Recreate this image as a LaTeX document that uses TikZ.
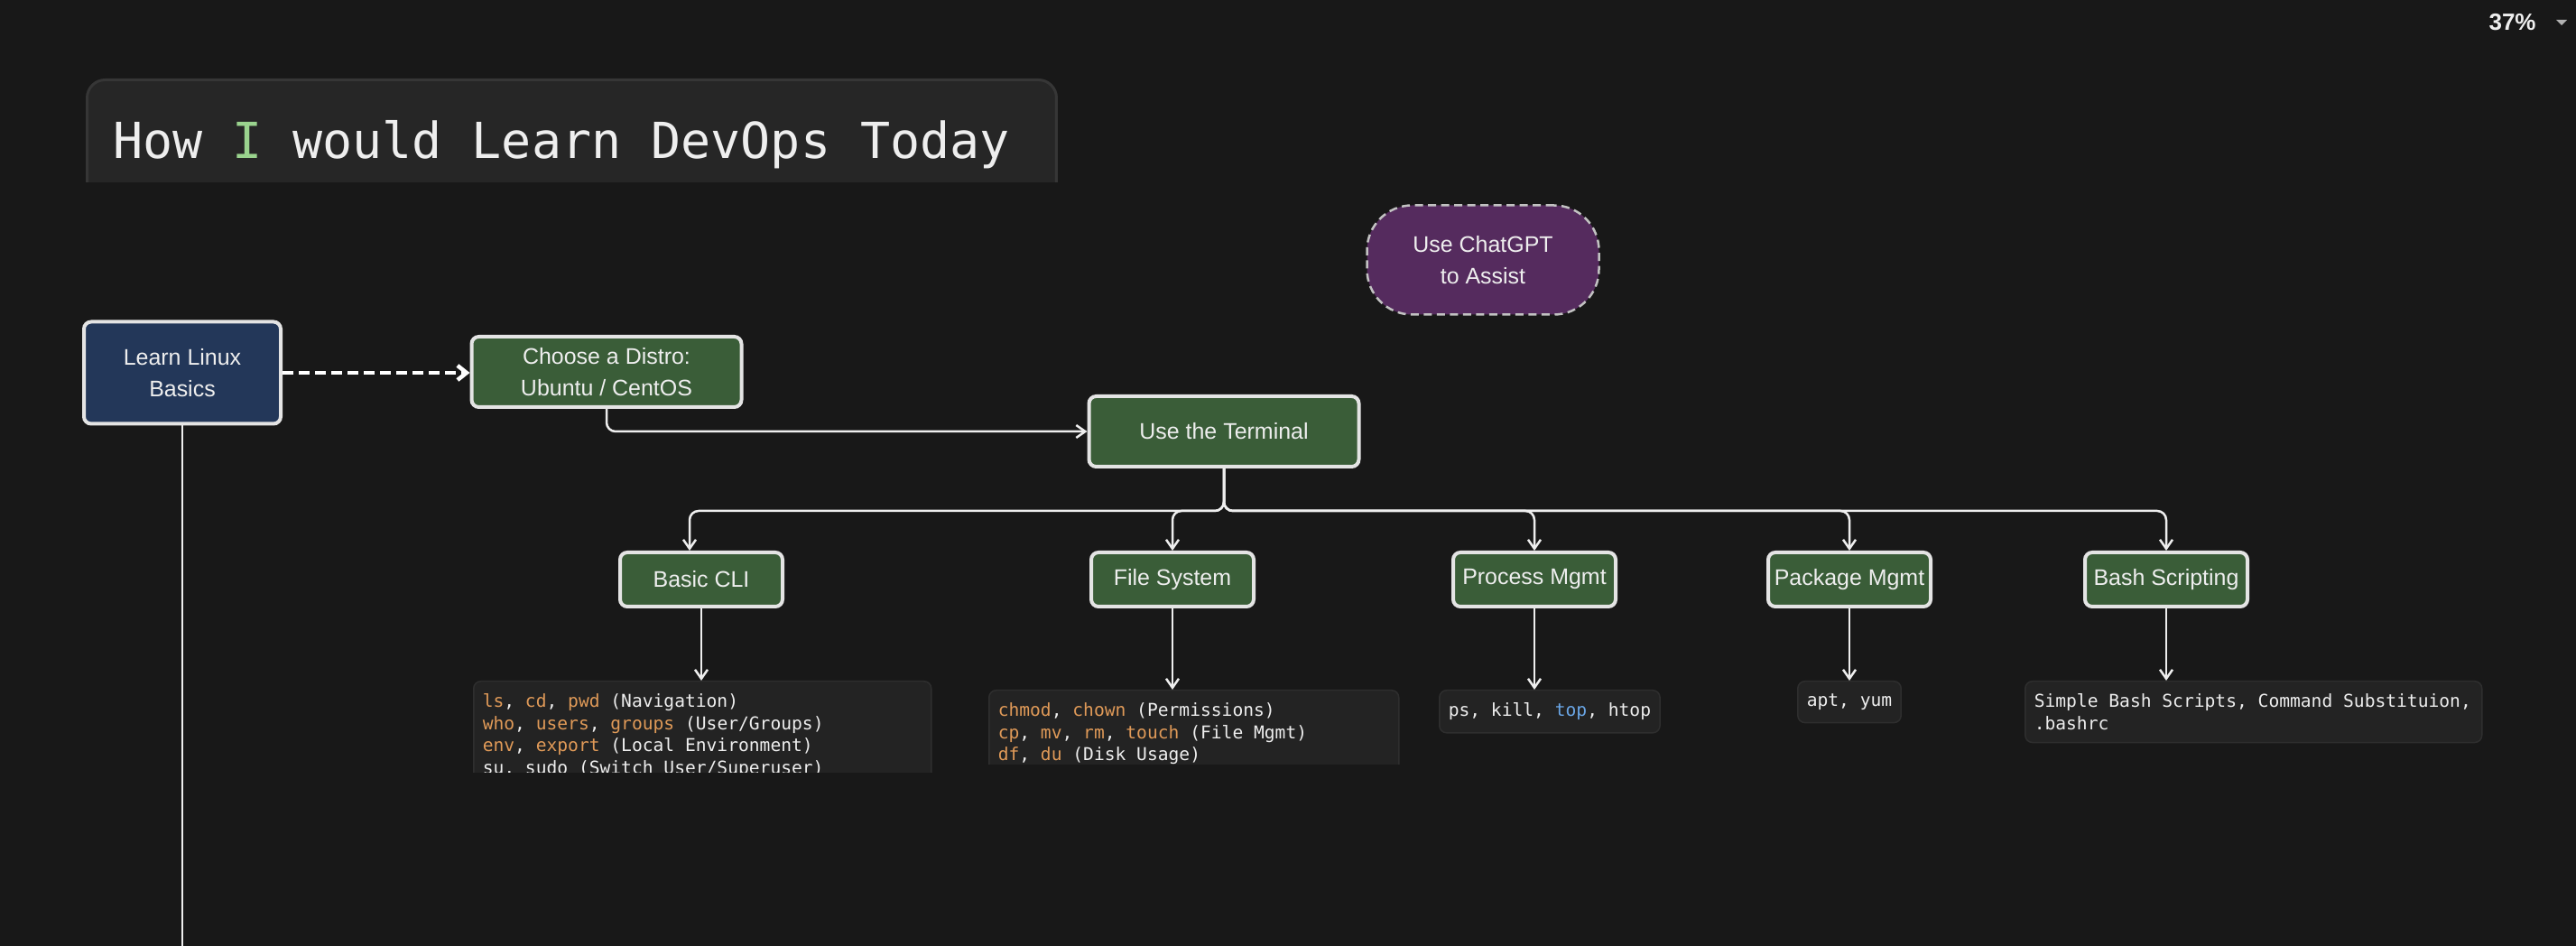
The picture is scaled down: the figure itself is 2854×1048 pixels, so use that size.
\documentclass[tikz,border=0pt]{standalone}
\usepackage{fontspec}
\setmainfont{Liberation Sans}
\setmonofont{DejaVu Sans Mono}
\usetikzlibrary{arrows.meta}

\definecolor{bgcol}{HTML}{181818}
\definecolor{titlebg}{HTML}{262626}
\definecolor{titleline}{HTML}{363636}
\definecolor{codebg}{HTML}{232323}
\definecolor{codeline}{HTML}{2E2E2E}
\definecolor{navyfill}{HTML}{233759}
\definecolor{greenfill}{HTML}{3A5D38}
\definecolor{purplefill}{HTML}{552B5E}
\definecolor{boxline}{HTML}{E4E4E4}
\definecolor{txt}{HTML}{EEEEEE}
\definecolor{cmdorange}{HTML}{E09A58}
\definecolor{cmdblue}{HTML}{6AA6E6}
\definecolor{igreen}{HTML}{9AD38E}

\newcommand{\cmdo}[1]{\textcolor{cmdorange}{#1}}
\newcommand{\cmdb}[1]{\textcolor{cmdblue}{#1}}

\tikzset{
  basebox/.style={draw=boxline, line width=0.4mm, rounded corners=0.8mm, text=txt,
    align=center, inner sep=0pt, font=\fontsize{7.1}{9.85}\selectfont},
  bluebox/.style={basebox, fill=navyfill, minimum width=21.8mm, minimum height=11.3mm},
  greenbox/.style={basebox, fill=greenfill, minimum width=29.9mm, minimum height=7.8mm},
  topicbox/.style={basebox, fill=greenfill, minimum width=18mm, minimum height=6mm},
  chatbox/.style={draw=boxline!85!black, line width=0.25mm, dash pattern=on 0.9mm off 0.55mm,
    fill=purplefill, rounded corners=5mm, minimum width=25.7mm, minimum height=12.1mm,
    text=txt, align=center, font=\fontsize{7.1}{9.85}\selectfont},
  codebox/.style={draw=codeline, line width=0.15mm, fill=codebg, rounded corners=0.8mm,
    text=txt, align=left, inner xsep=1mm, inner ysep=1.4mm,
    font=\fontsize{5.58}{6.97}\selectfont\ttfamily,
    execute at begin node={\spaceskip=0pt\xspaceskip=0pt\relax}},
  titlebox/.style={draw=titleline, line width=0.3mm, fill=titlebg, rounded corners=2mm,
    text=txt, align=left, anchor=north west, minimum width=107.4mm, minimum height=14.4mm,
    text width=101.6mm, inner xsep=2.9mm, font=\fontsize{15.65}{18}\selectfont\ttfamily,
    execute at begin node={\spaceskip=0pt\xspaceskip=0pt\relax}},
  conn/.style={draw=txt, line width=0.25mm},
  arr/.style={conn, -{Straight Barb[length=1mm,width=1.4mm]}},
  dasharr/.style={draw=white, line width=0.45mm, dash pattern=on 1.2mm off 0.6mm,
    -{Straight Barb[length=1mm,width=1.6mm]}}
}

\begin{document}
\begin{tikzpicture}[x=0.1mm, y=-0.1mm]
  \useasboundingbox (0,0) rectangle (2854,1048);
  \fill[bgcol] (0,0) rectangle (2854,1048);

  % title, cut off at the bottom
  \begin{scope}
    \clip (80,70) rectangle (1190,202);
    \node[titlebox] (title) at (95,87) {How \textcolor{igreen}{I} would Learn DevOps Today};
  \end{scope}

  \node[anchor=east, text=txt, font=\fontsize{7.4}{9}\selectfont\bfseries] (zoomlbl) at (2822,25) {37\%};
  \fill[txt!75!black] (2832,22) -- (2844,22) -- (2838,28) -- cycle;

  \path
    (202,413) node[bluebox] (linux) {Learn Linux\\Basics}
    (672,412) node[greenbox] (distro) {Choose a Distro:\\Ubuntu / CentOS}
    (1356,478) node[greenbox] (terminal) {Use the Terminal}
    (1643,288) node[chatbox] (chatgpt) {Use ChatGPT\\to Assist}
    (777,642) node[topicbox] (cli) {Basic CLI}
    (1299,642) node[topicbox] (fs) {File System}
    (1700,642) node[topicbox] (proc) {Process Mgmt}
    (2049,642) node[topicbox] (pkg) {Package Mgmt}
    (2400,642) node[topicbox] (bash) {Bash Scripting};

  % command lists
  \begin{scope}
    \clip (500,740) rectangle (1050,856);
    \node[codebox, anchor=north west, text width=48.7mm] (clicode) at (524,754)
      {\cmdo{ls}, \cmdo{cd}, \cmdo{pwd} (Navigation)\\
       \cmdo{who}, \cmdo{users}, \cmdo{groups} (User/Groups)\\
       \cmdo{env}, \cmdo{export} (Local Environment)\\
       su, sudo (Switch User/Superuser)};
  \end{scope}
  \begin{scope}
    \clip (1080,750) rectangle (1560,847);
    \node[codebox, anchor=north west, text width=43.4mm] (fscode) at (1095,764)
      {\cmdo{chmod}, \cmdo{chown} (Permissions)\\
       \cmdo{cp}, \cmdo{mv}, \cmdo{rm}, \cmdo{touch} (File Mgmt)\\
       \cmdo{df}, \cmdo{du} (Disk Usage)};
  \end{scope}
  \node[codebox, anchor=north west] (proccode) at (1594,764) {ps, kill, \cmdb{top}, htop};
  \node[codebox, anchor=north] (pkgcode) at (2049,754) {apt, yum};
  \node[codebox, anchor=north west, text width=48.6mm] (bashcode) at (2243,754)
    {Simple Bash Scripts, Command Substituion,\\ .bashrc};

  \coordinate (linuxend) at (202,1048);
  \draw[conn] (linux.south) -- (linuxend);
  \draw[dasharr] (linux.east) -- (linux.east -| distro.west);
  \draw[arr, rounded corners=1mm] (distro.south) |- (terminal.west);

  \begin{scope}[arr, rounded corners=1mm]
    \draw (terminal.south) -- ++(0,47) -| ([xshift=-1.3mm]cli.north);
    \draw (terminal.south) -- ++(0,47) -| (fs.north);
    \draw (terminal.south) -- ++(0,47) -| (proc.north);
    \draw (terminal.south) -- ++(0,47) -| (pkg.north);
    \draw (terminal.south) -- ++(0,47) -| (bash.north);
  \end{scope}

  \begin{scope}[arr]
    \draw (cli.south) -- (cli.south |- clicode.north);
    \draw (fs.south) -- (fs.south |- fscode.north);
    \draw (proc.south) -- (proc.south |- proccode.north);
    \draw (pkg.south) -- (pkg.south |- pkgcode.north);
    \draw (bash.south) -- (bash.south |- bashcode.north);
  \end{scope}
\end{tikzpicture}
\end{document}
